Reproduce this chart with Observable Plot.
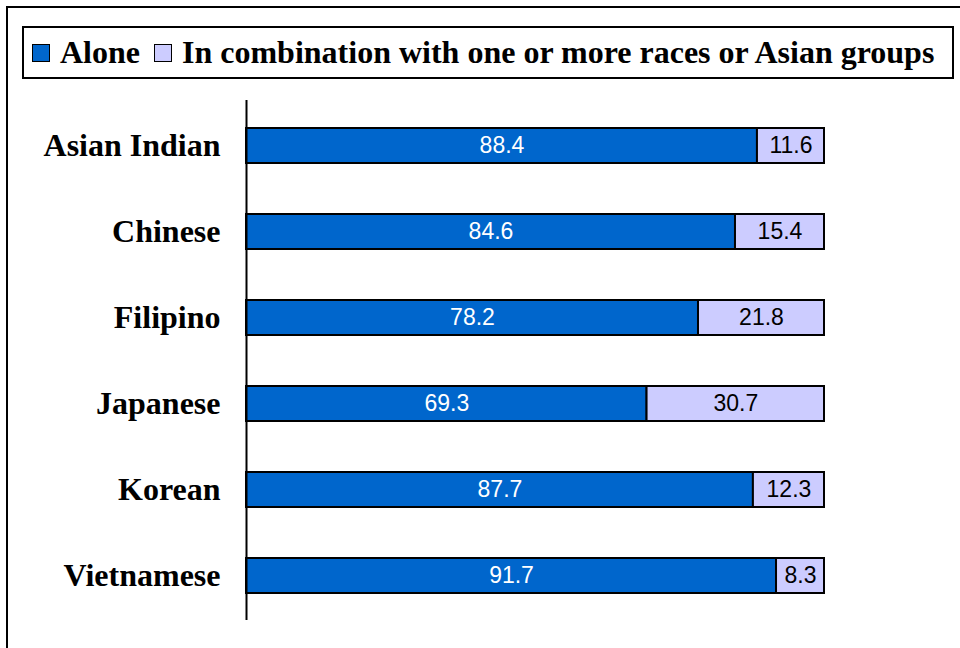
<!DOCTYPE html>
<html>
<head>
<meta charset="utf-8">
<script src="https://cdn.jsdelivr.net/npm/d3@7"></script>
<script src="https://cdn.jsdelivr.net/npm/@observablehq/plot@0.6"></script>
<style>
  html, body { margin: 0; padding: 0; background: #fff; }
  #page { position: relative; width: 960px; height: 648px; overflow: hidden; background: #fff; }
  #frame { position: absolute; left: 6px; top: 6px; width: 1000px; height: 700px;
           border-left: 2px solid #000; border-top: 2px solid #000; }
  #legend { position: absolute; left: 22px; top: 26px; width: 928px; height: 49px;
            border: 2px solid #000; display: flex; align-items: center;
            font-family: "Liberation Serif", "Times New Roman", serif; font-weight: bold;
            font-size: 32px; color: #000; white-space: nowrap; }
  .sw { display: inline-block; width: 16px; height: 16px; border: 1.5px solid #000;
        margin-right: 10px; }
  .item { display: flex; align-items: center; margin-left: 8px; }
  .item + .item { margin-left: 14px; }
  #chart { position: absolute; left: 0; top: 90px; }
</style>
</head>
<body>
<div id="page">
  <div id="frame"></div>
  <div id="legend"></div>
  <div id="chart"></div>
</div>
<script>
// Share of each Asian group reporting the group alone vs. in combination (percent)
const groups = ["Asian Indian", "Chinese", "Filipino", "Japanese", "Korean", "Vietnamese"];
const alone = [88.4, 84.6, 78.2, 69.3, 87.7, 91.7];
const combination = [11.6, 15.4, 21.8, 30.7, 12.3, 8.3];
const seriesNames = ["Alone", "In combination with one or more races or Asian groups"];
const seriesColors = ["#0066CC", "#CCCCFF"];
const labelColors = ["#ffffff", "#000000"];

const rows = [];
groups.forEach((g, i) => {
  rows.push({group: g, series: seriesNames[0], value: alone[i], order: 0});
  rows.push({group: g, series: seriesNames[1], value: combination[i], order: 1});
});

// Legend above the plot
const legend = document.getElementById("legend");
seriesNames.forEach((name, i) => {
  const item = document.createElement("span");
  item.className = "item";
  const sw = document.createElement("span");
  sw.className = "sw";
  sw.style.background = seriesColors[i];
  item.appendChild(sw);
  item.appendChild(document.createTextNode(name));
  legend.appendChild(item);
});

const chart = Plot.plot({
  width: 960,
  height: 558,
  marginLeft: 246,
  marginRight: 136,
  marginTop: 13,
  marginBottom: 29,
  x: {domain: [0, 100], axis: null},
  y: {domain: groups, paddingInner: 0.59, paddingOuter: 0.295, label: null},
  color: {domain: seriesNames, range: seriesColors},
  marks: [
    Plot.barX(rows, Plot.stackX({
      x: "value", y: "group", fill: "series", z: "series", order: "order",
      stroke: "#000", strokeWidth: 2
    })),
    Plot.text(rows, Plot.stackX({
      x: "value", y: "group", z: "series", order: "order",
      text: d => d.value.toFixed(1),
      fill: d => labelColors[d.order],
      fontFamily: "Liberation Sans, Arial, sans-serif",
      fontSize: 23
    })),
    Plot.axisY({
      tickSize: 0, tickPadding: 26, label: null,
      fontSize: 32, fontWeight: "bold",
      fontFamily: "Liberation Serif, Times New Roman, serif",
      fill: "#000"
    }),
    Plot.ruleX([0], {stroke: "#000", strokeWidth: 2, insetTop: -3, insetBottom: -1})
  ]
});
document.getElementById("chart").appendChild(chart);
</script>
</body>
</html>
